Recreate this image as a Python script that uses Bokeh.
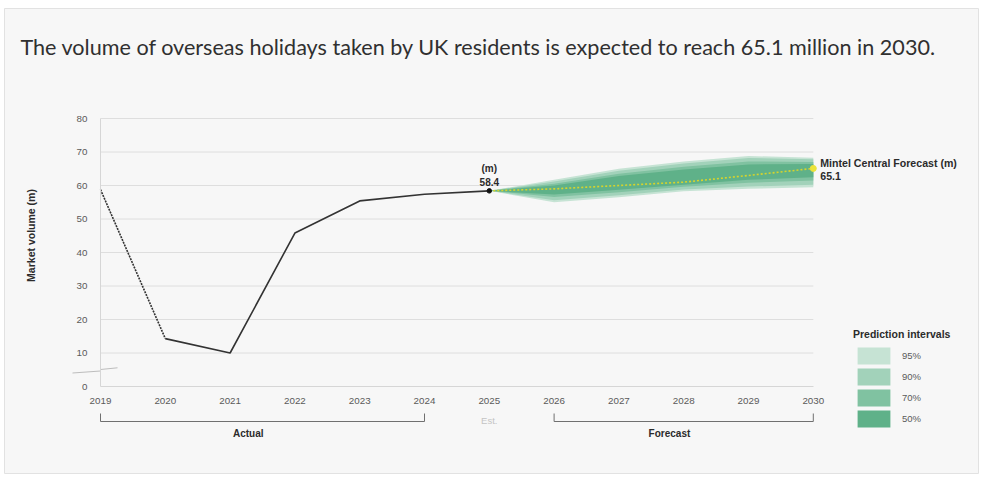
import math
from bokeh.plotting import figure
from bokeh.models import Range1d, FixedTicker, Label, Legend, LegendItem
from bokeh.embed import file_html
from bokeh.resources import INLINE

# ---------------- data ----------------
TITLE = "The volume of overseas holidays taken by UK residents is expected to reach 65.1 million in 2030."
Y_LABEL = "Market volume (m)"
years = [2019, 2020, 2021, 2022, 2023, 2024, 2025, 2026, 2027, 2028, 2029, 2030]
year_labels = ["2019", "2020", "2021", "2022", "2023", "2024", "2025", "2026", "2027", "2028", "2029", "2030"]
y_ticks = [0, 10, 20, 30, 40, 50, 60, 70, 80]

actual_years = [2019, 2020, 2021, 2022, 2023, 2024, 2025]
actual_values = [58.8, 14.3, 10.0, 45.8, 55.4, 57.4, 58.4]

forecast_years = [2025, 2026, 2027, 2028, 2029, 2030]
central_forecast = [58.4, 59.0, 60.0, 61.0, 63.0, 65.1]

interval_labels = ["95%", "90%", "70%", "50%"]
lower_95 = [58.4, 55.0, 56.5, 58.3, 59.0, 59.5]
upper_95 = [58.4, 61.7, 65.0, 67.2, 68.8, 68.3]
lower_90 = [58.4, 55.6, 57.1, 58.8, 59.7, 60.2]
upper_90 = [58.4, 61.2, 64.4, 66.6, 68.2, 67.8]
lower_70 = [58.4, 56.6, 58.0, 59.6, 60.8, 61.5]
upper_70 = [58.4, 60.5, 63.5, 65.6, 67.2, 67.0]
lower_50 = [58.4, 57.3, 58.7, 60.2, 61.7, 62.5]
upper_50 = [58.4, 60.0, 62.8, 64.8, 66.3, 66.4]

periods = ["Actual", "Forecast"]
period_start = [2019, 2026]
period_end = [2024, 2030]
estimate_label = "Est."
estimate_year = 2025

# ---------------- styles / layout ----------------
BG = "#f7f7f7"
GRID = "#dedede"
TEXT = "#2b2b2b"
TICK = "#5a5a5a"
FONT = "Liberation Sans"
band_colors = ["#c6e3d4", "#a2d2ba", "#80c2a1", "#5fb189"]

PPX = 64.8      # pixels per year
PPY = 3.35      # pixels per unit
ORIGIN_X = 100  # page x of first year
ORIGIN_Y = 386  # page y of zero
FRAME_L, FRAME_T, FRAME_R, FRAME_B = 4, 8, 978, 473
W, H = 981, 477

def px2x(px):
    return years[0] + (px - ORIGIN_X) / PPX

def py2y(py):
    return (ORIGIN_Y - py) / PPY

def dx(px):
    return px / PPX

def dy(px):
    return px / PPY

p = figure(width=W, height=H, output_backend="svg", toolbar_location=None,
           x_range=Range1d(px2x(FRAME_L), px2x(FRAME_R)),
           y_range=Range1d(py2y(FRAME_B), py2y(FRAME_T)),
           min_border_left=FRAME_L, min_border_top=FRAME_T,
           min_border_right=W - FRAME_R, min_border_bottom=H - FRAME_B,
           background_fill_color=BG, border_fill_color="white",
           outline_line_color="#e2e2e2")

# axes
p.xaxis.fixed_location = 0
p.yaxis.fixed_location = years[0]
p.xaxis.ticker = FixedTicker(ticks=years)
p.xaxis.major_label_overrides = {y: s for y, s in zip(years, year_labels)}
p.yaxis.ticker = FixedTicker(ticks=y_ticks)
p.xaxis.bounds = (years[0], years[-1])
p.yaxis.bounds = (y_ticks[0], y_ticks[-1])
for ax in (p.xaxis, p.yaxis):
    ax.axis_line_color = "#d6d6d6"
    ax.major_tick_line_color = None
    ax.minor_tick_line_color = None
    ax.major_label_text_font = FONT
    ax.major_label_text_font_size = "9.8px"
    ax.major_label_text_color = TICK
p.xaxis.major_label_standoff = 5
p.yaxis.major_label_standoff = 7

p.xgrid.visible = False
p.ygrid.visible = False
grid_y = y_ticks[1:]
p.segment(x0=[years[0]] * len(grid_y), x1=[years[-1]] * len(grid_y), y0=grid_y, y1=grid_y,
          line_color=GRID, line_width=1)

# prediction interval bands
bands = [(lower_95, upper_95), (lower_90, upper_90), (lower_70, upper_70), (lower_50, upper_50)]
band_renderers = []
for (lo, hi), c in zip(bands, band_colors):
    r = p.varea(x=forecast_years, y1=lo, y2=hi, fill_color=c, fill_alpha=1.0)
    band_renderers.append(r)

# central forecast
p.line(forecast_years, central_forecast, line_color="#d6d42c", line_width=1.6, line_dash="2 2")
p.scatter([forecast_years[-1]], [central_forecast[-1]], size=6, color="#ebe33a")

# actual line
p.line(actual_years[:2], actual_values[:2], line_color="#333333", line_width=1.6, line_dash="2 1")
p.line(actual_years[1:], actual_values[1:], line_color="#333333", line_width=1.6)
p.scatter([actual_years[-1]], [actual_values[-1]], size=4.5, color="#111111")

# axis break mark
p.line([px2x(72), px2x(100)], [py2y(372.5), py2y(370.5)], line_color="#bdbdbd", line_width=1)
p.line([px2x(100), px2x(117)], [py2y(369), py2y(367.3)], line_color="#bdbdbd", line_width=1)

def lab(x, y, text, size="10px", bold=True, color=TEXT, align="left", baseline="middle", font=FONT, angle=0):
    p.add_layout(Label(x=x, y=y, text=text, text_font=font, text_font_size=size,
                       text_font_style="bold" if bold else "normal", text_color=color,
                       text_align=align, text_baseline=baseline, angle=angle))

# title
lab(px2x(20), py2y(46), TITLE, size="21.6px", bold=False, color="#303030",
    baseline="alphabetic", font="Lato")

# y axis label
lab(px2x(30), py2y(235), Y_LABEL, size="10.5px", align="center", angle=math.pi / 2)

# value annotations
lab(actual_years[-1], actual_values[-1] + dy(22), "(m)", size="10px", align="center")
lab(actual_years[-1], actual_values[-1] + dy(9), f"{actual_values[-1]:.1f}", size="10px", align="center")
lab(forecast_years[-1] + dx(7), central_forecast[-1] + dy(5), "Mintel Central Forecast (m)", size="10.6px")
lab(forecast_years[-1] + dx(7), central_forecast[-1] - dy(8), f"{central_forecast[-1]:.1f}", size="10.6px")

# period brackets
yb_top, yb_bot = -dy(27), -dy(35)
for name, s, e in zip(periods, period_start, period_end):
    p.segment(x0=[s, s, e], y0=[yb_bot, yb_top, yb_top], x1=[e, s, e], y1=[yb_bot, yb_bot, yb_bot],
              line_color="#707070", line_width=1)
    lab((s + e) / 2 - 0.22, -dy(47), name, size="10px", align="center")
lab(estimate_year, -dy(34), estimate_label, size="9.5px", bold=False, color="#c4c4c4", align="center")

# legend (area legend glyphs are inset 10% on each side)
legend = Legend(items=[LegendItem(label=l, renderers=[r]) for l, r in zip(interval_labels, band_renderers)],
                title="Prediction intervals", location=(853 - FRAME_L, FRAME_B - 429),
                glyph_width=41, glyph_height=21, spacing=0, label_standoff=8,
                padding=0, margin=0, background_fill_alpha=0, border_line_color=None,
                label_text_font=FONT, label_text_font_size="9.5px", label_text_color=TICK,
                title_text_font=FONT, title_text_font_size="10.5px", title_text_font_style="bold",
                title_text_color=TEXT, title_standoff=5)
p.add_layout(legend)

open("out.html", "w").write(file_html(p, INLINE))
